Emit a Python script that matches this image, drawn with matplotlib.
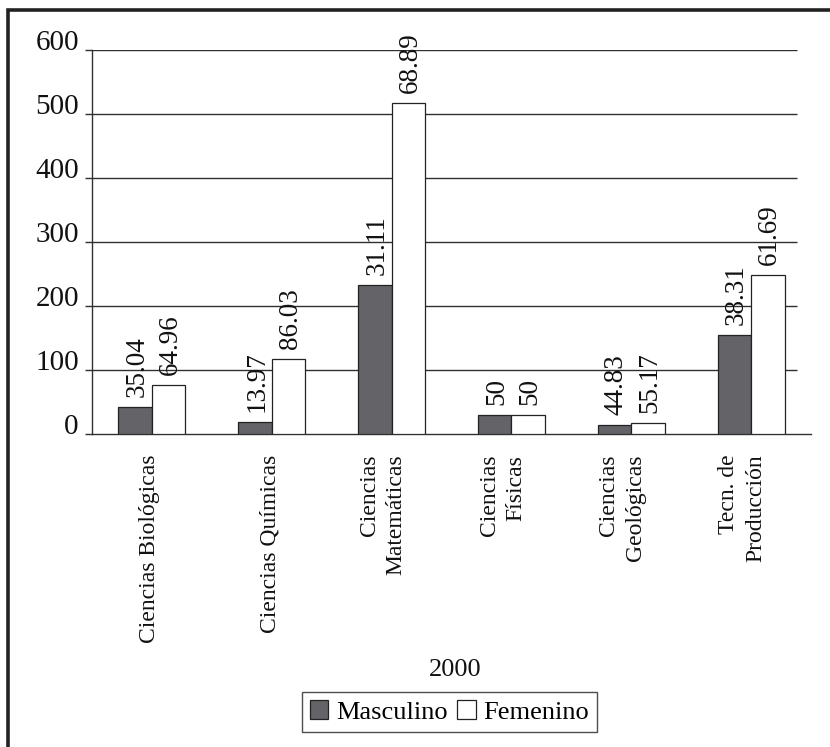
import numpy as np
import matplotlib
matplotlib.use("Agg")
import matplotlib.pyplot as plt
from matplotlib.patches import Rectangle
from matplotlib.transforms import ScaledTranslation, blended_transform_factory

# Students per programme, year 2000
categorias = ["Ciencias Biológicas", "Ciencias Químicas", "Ciencias\nMatemáticas",
              "Ciencias\nFísicas", "Ciencias\nGeológicas", "Tecn. de\nProducción"]
masculino = [41, 19, 233, 29, 13, 154]
femenino = [76, 117, 516, 29, 16, 248]
pct_masculino = ["35.04", "13.97", "31.11", "50", "44.83", "38.31"]
pct_femenino = ["64.96", "86.03", "68.89", "50", "55.17", "61.69"]
yticks = [0, 100, 200, 300, 400, 500, 600]
anio = "2000"

plt.rcParams["font.family"] = ["Liberation Serif", "DejaVu Serif"]

W, H = 830, 747
fig = plt.figure(figsize=(W / 100, H / 100), dpi=100)

# outer frame (runs off the right and bottom edges)
fig.patches.append(Rectangle((8 / W, -0.05), 1.2, 1 - 10 / H + 0.05,
                             transform=fig.transFigure, fill=False,
                             edgecolor="#222222", linewidth=2.6))

left, right = 92 / W, 811 / W
bottom, top = 1 - 433.7 / H, 1 - 49.5 / H
ax = fig.add_axes([left, bottom, right - left, top - bottom])

x = np.arange(len(categorias))
bw = 0.28
ax.set_xlim(-0.5, len(categorias) - 0.5)
ax.set_ylim(0, 600)

# horizontal gridlines stopping short of the right end
px = (len(categorias)) / (811 - 92)
ax.hlines(yticks[1:], -0.5, len(categorias) - 0.5 - 14 * px,
          colors="#303030", linewidth=1.0, zorder=1)

bm = ax.bar(x - bw / 2, masculino, bw, color="#646468", edgecolor="#222222",
            linewidth=0.9, zorder=3, label="Masculino")
bf = ax.bar(x + bw / 2, femenino, bw, color="white", edgecolor="#222222",
            linewidth=0.9, zorder=3, label="Femenino")

lab_off = ScaledTranslation(2 / 100, 10 / 100, fig.dpi_scale_trans)
for xi, v, t in zip(x - bw / 2, masculino, pct_masculino):
    ax.text(xi, v, t, rotation=90, ha="center", va="bottom", fontsize=19.5,
            color="#111111", transform=ax.transData + lab_off, zorder=4)
for xi, v, t in zip(x + bw / 2, femenino, pct_femenino):
    ax.text(xi, v, t, rotation=90, ha="center", va="bottom", fontsize=19.5,
            color="#111111", transform=ax.transData + lab_off, zorder=4)

# axes styling
for s in ("top", "right"):
    ax.spines[s].set_visible(False)
ax.spines["left"].set_color("#303030")
ax.spines["left"].set_linewidth(1.0)
ax.spines["bottom"].set_color("#303030")
ax.spines["bottom"].set_linewidth(1.0)
ax.set_yticks(yticks)
ax.tick_params(axis="y", direction="out", length=5, width=1.0, color="#303030",
               labelsize=21, pad=4.5, labelcolor="#111111")
for lbl in ax.get_yticklabels():
    lbl.set_verticalalignment("baseline")
ax.set_xticks([])

# category labels, rotated, hanging below the baseline
xt = blended_transform_factory(ax.transData, ax.transAxes)
for xi, name in zip(x, categorias):
    dx = -9 if "\n" in name else -2
    off = ScaledTranslation(dx / 100, -21 / 100, fig.dpi_scale_trans)
    ax.text(xi, 0, name, rotation=90, ha="center", va="top",
            multialignment="right", fontsize=17, linespacing=1.35,
            color="#111111", transform=xt + off)

fig.text(455 / W, 1 - 670 / H, anio, ha="center", va="center", fontsize=19,
         color="#111111")

leg = fig.legend(handles=[bm, bf], labels=["Masculino", "Femenino"],
                 loc="center", bbox_to_anchor=(449.5 / W, 1 - 712 / H), ncol=2,
                 fontsize=19, frameon=True, fancybox=False, handlelength=0.7,
                 handleheight=0.7, handletextpad=0.3, columnspacing=0.35,
                 borderpad=0.3, borderaxespad=0)
leg.get_frame().set_edgecolor("#222222")
leg.get_frame().set_linewidth(1.0)

fig.savefig("out.png", dpi=100)
